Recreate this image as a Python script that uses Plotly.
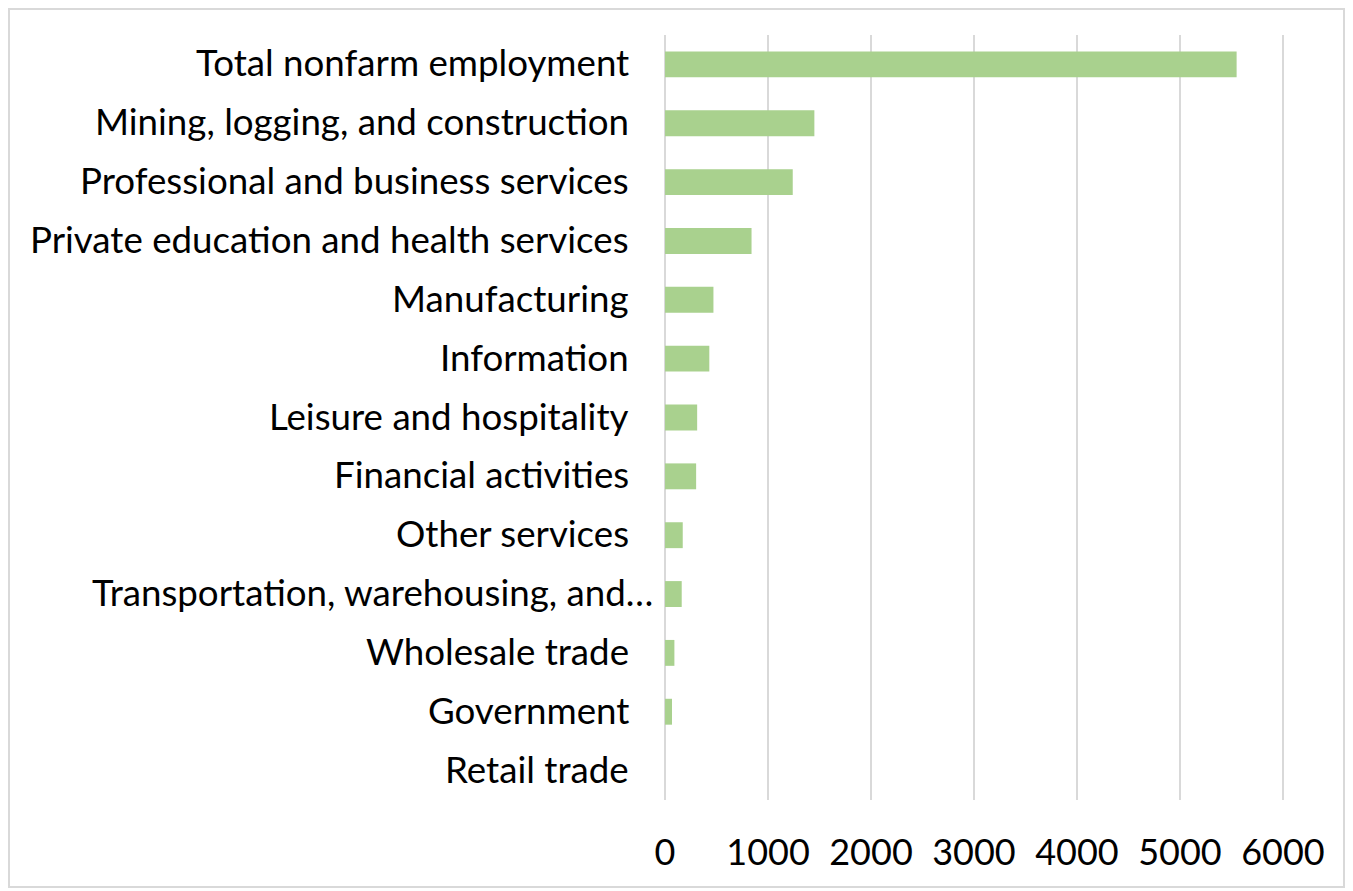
import plotly.graph_objects as go

categories = [
    "Total nonfarm employment",
    "Mining, logging, and construction",
    "Professional and business services",
    "Private education and health services",
    "Manufacturing",
    "Information",
    "Leisure and hospitality",
    "Financial activities",
    "Other services",
    "Transportation, warehousing, and…",
    "Wholesale trade",
    "Government",
    "Retail trade",
]
values = [5550, 1450, 1240, 840, 470, 430, 312, 302, 172, 162, 91, 68, 0]
x_ticks = [0, 1000, 2000, 3000, 4000, 5000, 6000]

# page body has an 8px default margin; figure size compensates
W, H = 1345, 883
ml, mr, mt, mb = 656, 69, 27, 91

fig = go.Figure(
    go.Bar(
        x=values,
        y=categories,
        orientation="h",
        marker=dict(color="#A9D18E", line=dict(width=0)),
        width=0.44,
        hoverinfo="x+y",
    )
)

pw = W - ml - mr
ph = H - mt - mb

# category labels as annotations (the truncated label sits further right, as in the original)
annotations = []
for cat in categories:
    shift = -9 if cat.endswith("…") else -33
    annotations.append(dict(
        x=0, xref="paper", y=cat, yref="y", text=cat, showarrow=False,
        xanchor="right", yanchor="middle", xshift=shift, yshift=2,
        font=dict(family="Lato, Carlito, Calibri, sans-serif", size=36.7, color="black"),
    ))

fig.update_layout(
    width=W,
    height=H,
    margin=dict(l=ml, r=mr, t=mt, b=mb),
    paper_bgcolor="white",
    plot_bgcolor="white",
    showlegend=False,
    font=dict(family="Lato, Carlito, Calibri, sans-serif", size=36, color="black"),
    xaxis=dict(
        range=[-10, 6010],
        tickvals=x_ticks,
        ticktext=[str(v) for v in x_ticks],
        showgrid=True,
        gridcolor="#D9D9D9",
        gridwidth=2,
        zeroline=True,
        zerolinecolor="#D9D9D9",
        zerolinewidth=2,
        showline=False,
        ticks="",
        ticklabelstandoff=28,
        tickfont=dict(size=36),
        fixedrange=True,
    ),
    yaxis=dict(
        autorange="reversed",
        showgrid=False,
        zeroline=False,
        showline=False,
        ticks="",
        showticklabels=False,
        fixedrange=True,
    ),
    annotations=annotations,
    shapes=[
        dict(
            type="rect", xref="paper", yref="paper",
            x0=(1 - ml) / pw, x1=(W - 9 - ml) / pw,
            y0=-(H - 4 - (H - mb)) / ph, y1=1 + (mt - 1) / ph,
            line=dict(color="#D9D9D9", width=2), fillcolor="rgba(0,0,0,0)", layer="below",
        ),
    ],
)

fig.write_html("out.html")
